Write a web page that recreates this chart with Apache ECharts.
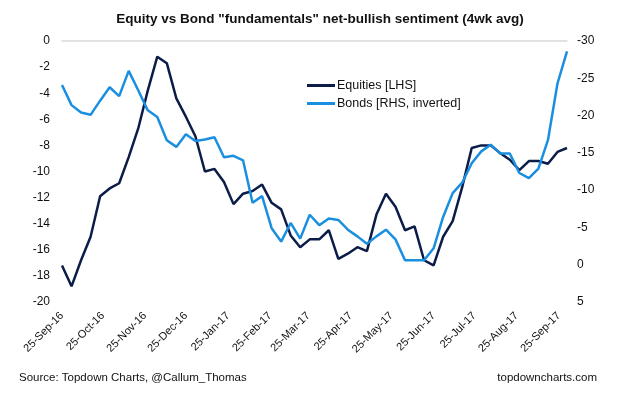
<!DOCTYPE html>
<html>
<head>
<meta charset="utf-8">
<script src="https://cdn.jsdelivr.net/npm/echarts@6/dist/echarts.min.js"></script>
<style>
  html, body { margin: 0; padding: 0; background: #fff; }
  #chart { width: 640px; height: 396px; }
</style>
</head>
<body>
<div id="chart"></div>
<script>
// Weekly survey readings, 4wk average
const weeks = [
  "2016-09-25", "2016-10-02", "2016-10-09", "2016-10-16", "2016-10-23", "2016-10-30",
  "2016-11-06", "2016-11-13", "2016-11-20", "2016-11-27", "2016-12-04", "2016-12-11",
  "2016-12-18", "2016-12-25", "2017-01-01", "2017-01-08", "2017-01-15", "2017-01-22",
  "2017-01-29", "2017-02-05", "2017-02-12", "2017-02-19", "2017-02-26", "2017-03-05",
  "2017-03-12", "2017-03-19", "2017-03-26", "2017-04-02", "2017-04-09", "2017-04-16",
  "2017-04-23", "2017-04-30", "2017-05-07", "2017-05-14", "2017-05-21", "2017-05-28",
  "2017-06-04", "2017-06-11", "2017-06-18", "2017-06-25", "2017-07-02", "2017-07-09",
  "2017-07-16", "2017-07-23", "2017-07-30", "2017-08-06", "2017-08-13", "2017-08-20",
  "2017-08-27", "2017-09-03", "2017-09-10", "2017-09-17", "2017-09-24", "2017-10-01",
]

const equities = [
  -17.2, -18.8, -16.8, -15.0, -11.9, -11.3, -10.9, -8.9, -6.7, -3.8,
  -1.2, -1.7, -4.4, -5.8, -7.3, -10.0, -9.8, -10.8, -12.5, -11.7,
  -11.5, -11.0, -12.4, -12.9, -14.9, -15.8, -15.2, -15.2, -14.5, -16.7,
  -16.3, -15.8, -16.1, -13.3, -11.7, -12.7, -14.5, -14.2, -16.8, -17.2,
  -15.0, -13.8, -11.2, -8.2, -8.0, -8.0, -8.6, -9.1, -9.9, -9.2,
  -9.2, -9.4, -8.5, -8.2,
]

const bonds = [
  -24.1, -21.4, -20.4, -20.1, -22.0, -23.8, -22.6, -26.0, -23.4, -20.7,
  -19.8, -16.7, -15.8, -17.5, -16.6, -16.8, -17.1, -14.4, -14.6, -14.0,
  -8.3, -9.2, -4.9, -3.1, -5.6, -3.5, -6.7, -5.3, -6.2, -6.0,
  -4.7, -3.8, -2.8, -3.8, -4.7, -3.4, -0.6, -0.6, -0.6, -2.2,
  -6.4, -9.6, -11.0, -13.6, -15.2, -16.1, -14.9, -14.9, -12.3, -11.6,
  -12.9, -16.7, -24.3, -28.6,
]

const tickDates = [
  "2016-09-25", "2016-10-25", "2016-11-25", "2016-12-25", "2017-01-25", "2017-02-25",
  "2017-03-25", "2017-04-25", "2017-05-25", "2017-06-25", "2017-07-25", "2017-08-25",
  "2017-09-25",
]
const tickLabels = [
  "25-Sep-16", "25-Oct-16", "25-Nov-16", "25-Dec-16", "25-Jan-17", "25-Feb-17",
  "25-Mar-17", "25-Apr-17", "25-May-17", "25-Jun-17", "25-Jul-17", "25-Aug-17",
  "25-Sep-17",
]

// dates become day numbers so a plain value axis can place them
const toDay = s => Math.round(Date.parse(s + "T00:00:00Z") / 86400000)
const tickDays = tickDates.map(toDay)
const xMin = toDay(weeks[0])
const xMax = toDay(weeks[weeks.length - 1])

const NAVY = "#0c1c48"
const BLUE = "#1a8fe0"
const FONT = "Liberation Sans, Arial, sans-serif"

const chart = echarts.init(document.getElementById("chart"), null, {renderer: "canvas"})

chart.setOption({
  backgroundColor: "#fff",
  animation: false,
  textStyle: {fontFamily: FONT},
  title: [
    {
      text: 'Equity vs Bond "fundamentals" net-bullish sentiment (4wk avg)',
      left: "center",
      top: 7,
      textStyle: {fontFamily: FONT, fontSize: 13.5, fontWeight: "bold", color: "#111"},
    },
    {
      text: "Source: Topdown Charts, @Callum_Thomas",
      left: 14,
      top: 367,
      textStyle: {fontFamily: FONT, fontSize: 11.5, fontWeight: "normal", color: "#111"},
    },
    {
      text: "topdowncharts.com",
      right: 38,
      top: 367,
      textStyle: {fontFamily: FONT, fontSize: 11.5, fontWeight: "normal", color: "#111"},
    },
  ],
  legend: {
    orient: "vertical",
    left: 302,
    top: 74,
    itemGap: 5,
    itemWidth: 28,
    itemHeight: 3,
    icon: "rect",
    textStyle: {fontFamily: FONT, fontSize: 12.5, color: "#111", padding: [0, 0, 0, -3]},
    data: ["Equities [LHS]", "Bonds [RHS, inverted]"],
  },
  grid: {left: 62, right: 73, top: 41, bottom: 94},
  xAxis: [
    {
      type: "value",
      min: xMin,
      max: xMax,
      axisLine: {show: false},
      axisTick: {show: false},
      splitLine: {show: false},
      axisLabel: {
        customValues: tickDays,
        rotate: 45,
        margin: 12,
        fontSize: 11,
        color: "#111",
        hideOverlap: false,
        formatter(value) {
          const i = tickDays.indexOf(value)
          return i >= 0 ? tickLabels[i] : ""
        },
      },
    },
    {
      type: "value",
      position: "top",
      min: xMin,
      max: xMax,
      axisLine: {show: true, onZero: false, lineStyle: {color: "#d9d9d9", width: 1.5}},
      axisTick: {show: false},
      axisLabel: {show: false},
      splitLine: {show: false},
    },
  ],
  yAxis: [
    {
      type: "value",
      position: "left",
      min: -20,
      max: 0,
      interval: 2,
      axisLine: {show: false},
      axisTick: {show: false},
      splitLine: {show: false},
      axisLabel: {margin: 12, fontSize: 12, color: "#111"},
    },
    {
      type: "value",
      position: "right",
      inverse: true,
      min: -30,
      max: 5,
      interval: 5,
      axisLine: {show: false},
      axisTick: {show: false},
      splitLine: {show: false},
      axisLabel: {margin: 10, fontSize: 12, color: "#111"},
    },
  ],
  series: [
    {
      name: "Equities [LHS]",
      type: "line",
      yAxisIndex: 0,
      data: weeks.map((d, i) => [toDay(d), equities[i]]),
      symbol: "none",
      lineStyle: {color: NAVY, width: 2.5},
      itemStyle: {color: NAVY},
      z: 2,
    },
    {
      name: "Bonds [RHS, inverted]",
      type: "line",
      yAxisIndex: 1,
      data: weeks.map((d, i) => [toDay(d), bonds[i]]),
      symbol: "none",
      lineStyle: {color: BLUE, width: 2.5},
      itemStyle: {color: BLUE},
      z: 3,
    },
  ],
})
</script>
</body>
</html>
